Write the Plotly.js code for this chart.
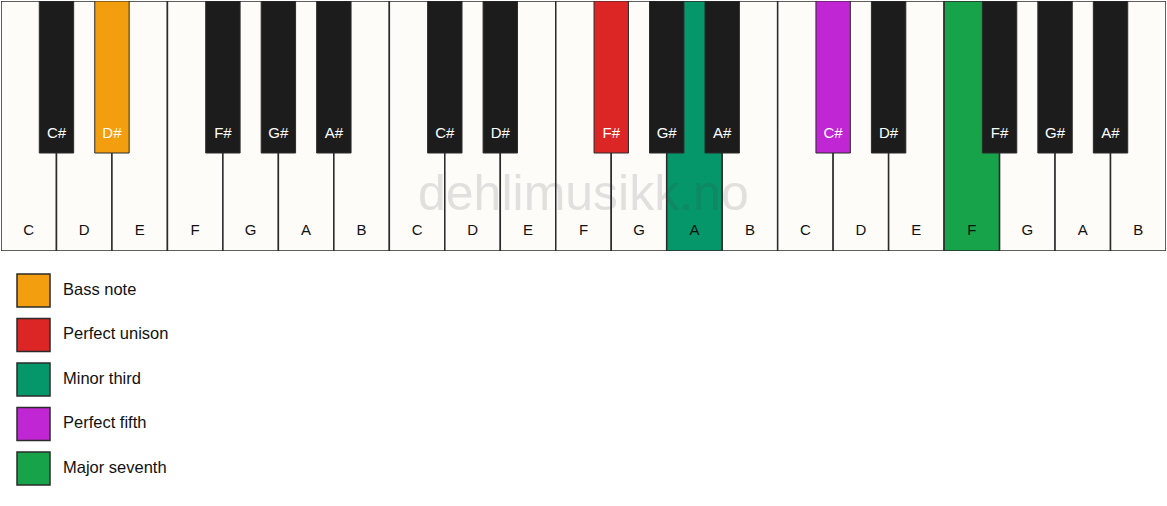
<!DOCTYPE html>
<html>
<head>
<meta charset="utf-8">
<script src="https://cdn.plot.ly/plotly-3.0.1.min.js"></script>
<style>
  html, body { margin: 0; padding: 0; background: #fff; }
  #chart { width: 1167px; height: 506px; }
</style>
</head>
<body>
<div id="chart"></div>
<script>
// three octaves of white keys, left to right
const whiteNames = ["C", "D", "E", "F", "G", "A", "B",
                    "C", "D", "E", "F", "G", "A", "B",
                    "C", "D", "E", "F", "G", "A", "B"];
// white notes that have a sharp right after them
const sharpAfter = ["C", "D", "F", "G", "A"];

// highlighted notes (octave counted from 0)
const legendNames = ["Bass note", "Perfect unison", "Minor third", "Perfect fifth", "Major seventh"];
const legendNotes = ["D#", "F#", "A", "C#", "F"];
const legendOctaves = [0, 1, 1, 2, 2];
const legendColors = ["#f39e0e", "#dc2626", "#059669", "#c026d3", "#16a34a"];

const WHITE = "#fdfcf9";
const BLACK = "#1c1c1c";
const EDGE = "#2b2b2b";

// build key lists
const whiteX = whiteNames.map((n, i) => i);
const blackX = [], blackNames = [];
whiteNames.forEach((n, i) => {
    if (sharpAfter.includes(n) && i < whiteNames.length - 1) {
        blackX.push(i + 0.5);
        blackNames.push(n + "#");
    }
});

const whiteFill = whiteNames.map(() => WHITE);
const blackFill = blackNames.map(() => BLACK);
legendNotes.forEach((note, k) => {
    const oct = legendOctaves[k];
    if (note.endsWith("#")) {
        const idx = blackNames.findIndex((n, j) => n === note && Math.floor(blackX[j] / 7) === oct);
        if (idx >= 0) blackFill[idx] = legendColors[k];
    } else {
        const idx = whiteNames.findIndex((n, j) => n === note && Math.floor(j / 7) === oct);
        if (idx >= 0) whiteFill[idx] = legendColors[k];
    }
});

const keyFont = {family: "Liberation Sans, Arial, sans-serif", size: 15};

const data = [
    {
        type: "bar", x: whiteX, y: whiteX.map(() => 1), base: 0, width: 1,
        marker: {color: whiteFill, line: {color: EDGE, width: 1.5}},
        hoverinfo: "skip", showlegend: false, xaxis: "x", yaxis: "y"
    },
    {
        type: "bar", x: blackX, y: blackX.map(() => 0.608), base: 0.392, width: 0.62,
        marker: {color: blackFill, line: {color: EDGE, width: 1}},
        hoverinfo: "skip", showlegend: false, xaxis: "x", yaxis: "y"
    },
    {
        type: "scatter", mode: "text", x: whiteX, y: whiteX.map(() => 0.08),
        text: whiteNames, textposition: "middle center",
        textfont: Object.assign({color: "#111"}, keyFont),
        hoverinfo: "skip", showlegend: false, xaxis: "x", yaxis: "y"
    },
    {
        type: "scatter", mode: "text", x: blackX, y: blackX.map(() => 0.468),
        text: blackNames, textposition: "middle center",
        textfont: Object.assign({color: "#ffffff"}, keyFont),
        hoverinfo: "skip", showlegend: false, xaxis: "x", yaxis: "y"
    },
    // legend swatches + labels
    {
        type: "scatter", mode: "markers", x: legendNames.map(() => 32.5), y: legendNames,
        marker: {symbol: "square", size: 33, color: legendColors, line: {color: EDGE, width: 1.5}},
        hoverinfo: "skip", showlegend: false, xaxis: "x2", yaxis: "y2"
    },
    {
        type: "scatter", mode: "text", x: legendNames.map(() => 62), y: legendNames,
        text: legendNames, textposition: "middle right",
        textfont: {family: "Liberation Sans, Arial, sans-serif", size: 16.5, color: "#111"},
        hoverinfo: "skip", showlegend: false, xaxis: "x2", yaxis: "y2"
    }
];

const hidden = {showgrid: false, zeroline: false, showticklabels: false, showline: false, ticks: "", fixedrange: true};
const split = (506 - 251) / 505;

const layout = {
    width: 1167,
    height: 506,
    margin: {t: 1, b: 0, l: 1, r: 1},
    paper_bgcolor: "#ffffff",
    plot_bgcolor: "#ffffff",
    barmode: "overlay",
    showlegend: false,
    xaxis: Object.assign({range: [-0.5, whiteNames.length - 0.5], domain: [0, 1]}, hidden),
    yaxis: Object.assign({range: [0, 1], domain: [split, 1]}, hidden),
    xaxis2: Object.assign({range: [0, 1165], domain: [0, 1], anchor: "y2"}, hidden),
    yaxis2: Object.assign({type: "category", categoryorder: "array", categoryarray: legendNames,
        range: [4.84, -0.89], domain: [0, split], anchor: "x2"}, hidden),
    annotations: [{
        text: "dehlimusikk.no", xref: "paper", yref: "y", x: 0.5, y: 0.232,
        showarrow: false, xanchor: "center", yanchor: "middle",
        font: {family: "Liberation Sans, Arial, sans-serif", size: 50, color: "rgba(70,70,70,0.15)"}
    }]
};

Plotly.newPlot("chart", data, layout, {displayModeBar: false, staticPlot: true});
</script>
</body>
</html>
